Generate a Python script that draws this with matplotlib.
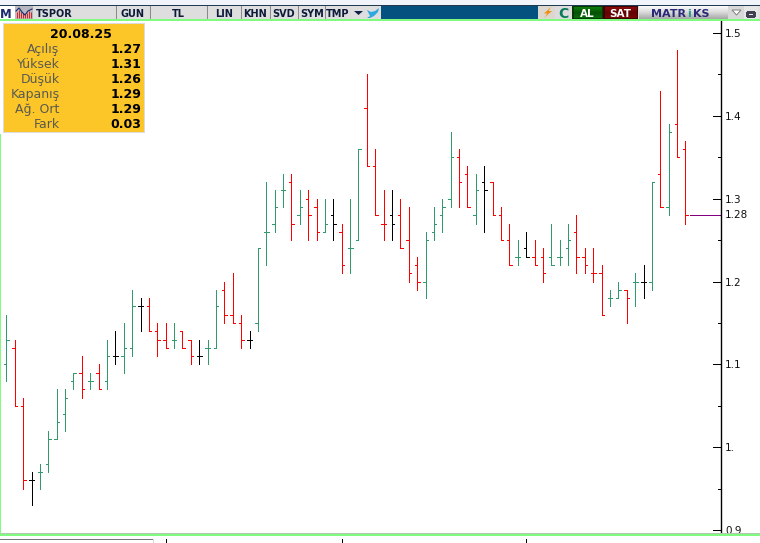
import numpy as np
import matplotlib
matplotlib.use("Agg")
import matplotlib.pyplot as plt
from matplotlib.patches import Rectangle, Polygon

# ---- data -------------------------------------------------------------
opens = [1.10,1.12,1.05,0.96,0.97,0.98,1.01,1.04,1.08,1.09,1.08,1.09,1.08,1.11,1.11,1.12,1.17,1.17,1.14,1.13,
         1.13,1.14,1.13,1.11,1.12,1.12,1.19,1.16,1.15,1.13,1.15,1.26,1.27,1.31,1.32,1.28,1.30,1.29,1.26,1.28,
         1.26,1.24,1.25,1.41,1.34,1.27,1.28,1.28,1.25,1.22,1.20,1.26,1.28,1.30,1.35,1.33,1.28,1.32,1.32,1.28,
         1.25,1.23,1.24,1.23,1.23,1.23,1.23,1.24,1.26,1.23,1.21,1.21,1.18,1.18,1.19,1.20,1.20,1.20,1.33,1.29,
         1.39,1.36]
highs = [1.16,1.13,1.06,0.97,0.98,1.02,1.07,1.07,1.09,1.11,1.09,1.10,1.13,1.14,1.15,1.19,1.18,1.18,1.15,1.15,
         1.15,1.14,1.13,1.13,1.13,1.19,1.20,1.21,1.16,1.14,1.24,1.32,1.31,1.33,1.33,1.31,1.31,1.30,1.30,1.30,
         1.27,1.30,1.36,1.45,1.36,1.31,1.31,1.30,1.29,1.23,1.26,1.29,1.30,1.38,1.36,1.34,1.33,1.34,1.32,1.29,
         1.27,1.25,1.26,1.25,1.24,1.27,1.25,1.27,1.28,1.24,1.24,1.22,1.19,1.20,1.19,1.21,1.22,1.32,1.43,1.39,
         1.48,1.37]
lows  = [1.08,1.05,0.95,0.93,0.95,0.97,1.01,1.02,1.07,1.06,1.07,1.07,1.07,1.10,1.09,1.11,1.14,1.14,1.11,1.12,
         1.12,1.12,1.10,1.10,1.10,1.12,1.15,1.15,1.12,1.12,1.14,1.22,1.26,1.29,1.25,1.27,1.25,1.25,1.26,1.25,
         1.21,1.21,1.25,1.34,1.28,1.25,1.25,1.24,1.20,1.19,1.18,1.25,1.26,1.29,1.29,1.29,1.27,1.26,1.28,1.25,
         1.22,1.22,1.23,1.22,1.20,1.22,1.22,1.22,1.21,1.21,1.20,1.16,1.17,1.18,1.15,1.17,1.18,1.19,1.29,1.28,
         1.35,1.27]
closes = [1.13,1.05,0.96,0.96,0.97,1.01,1.03,1.06,1.09,1.07,1.08,1.07,1.11,1.11,1.12,1.17,1.17,1.14,1.13,1.12,
          1.13,1.12,1.11,1.11,1.12,1.17,1.16,1.15,1.13,1.13,1.24,1.26,1.29,1.31,1.27,1.29,1.28,1.26,1.27,1.27,
          1.22,1.24,1.36,1.34,1.28,1.27,1.27,1.24,1.21,1.20,1.25,1.27,1.29,1.35,1.32,1.29,1.31,1.31,1.28,1.25,
          1.22,1.23,1.23,1.22,1.21,1.22,1.23,1.25,1.23,1.22,1.21,1.16,1.18,1.19,1.18,1.20,1.20,1.32,1.29,1.38,
          1.35,1.28]
last_price = 1.28
last_label = "1.28"
y_major = [0.9, 1.0, 1.1, 1.2, 1.3, 1.4, 1.5]
y_major_labels = ["0.9", "1.", "1.1", "1.2", "1.3", "1.4", "1.5"]
y_minor = [0.95, 1.05, 1.15, 1.25, 1.35, 1.45]

info_date = "20.08.25"
info_names = ["Açılış", "Yüksek", "Düşük", "Kapanış", "Ağ. Ort", "Fark"]
info_values = ["1.27", "1.31", "1.26", "1.29", "1.29", "0.03"]

toolbar_buttons = ["GUN", "TL", "LIN", "KHN", "SVD", "SYM", "TMP"]
symbol = "TSPOR"

# ---- styles / layout --------------------------------------------------
W, H = 760, 543
GREEN, RED, BLACK = "#2f9b68", "#ff0000", "#000000"
LINE_GREEN = "#80fb80"
PX = 0.72  # one pixel in points at dpi 100

fig = plt.figure(figsize=(W / 100, H / 100), dpi=100, facecolor="white")

# main price axes
ax_left, ax_right, ax_top, ax_bot = 0, 721, 20, 534
ax = fig.add_axes([ax_left / W, 1 - ax_bot / H, (ax_right - ax_left) / W, (ax_bot - ax_top) / H])
px_per_bar = 8.383
x0_px = 6.4
ax.set_xlim((ax_left - x0_px) / px_per_bar, (ax_right - x0_px) / px_per_bar)
px_per_price = 828.5
y15_px = 33
ax.set_ylim(1.5 - (ax_bot - y15_px) / px_per_price, 1.5 + (y15_px - ax_top) / px_per_price)

idx = np.arange(len(closes))
prev = np.r_[closes[0] - 0.01, closes[:-1]]
c = np.array(closes)
colors = np.where(c > prev + 1e-9, GREEN, np.where(c < prev - 1e-9, RED, BLACK))

ax.vlines(idx, lows, highs, colors=colors, linewidth=PX, antialiased=False)
tick = 2.4 / px_per_bar
ax.hlines(opens, idx - tick, idx, colors=colors, linewidth=PX, antialiased=False)
ax.hlines(closes, idx, idx + tick, colors=colors, linewidth=PX, antialiased=False)
ax.hlines(last_price, idx[-1] + 4.5 / px_per_bar, ax.get_xlim()[1] - 1 / px_per_bar,
          colors="#800080", linewidth=PX, antialiased=False)

for s in ["left", "top", "bottom"]:
    ax.spines[s].set_visible(False)
ax.spines["right"].set_linewidth(1.0)
ax.yaxis.tick_right()
ax.set_xticks([])
ax.set_yticks(y_major, y_major_labels, fontsize=7.5, family="DejaVu Sans")
ax.set_yticks(y_minor, minor=True)
ax.tick_params(axis="y", which="major", direction="out", left=True, right=False, length=0,
               labelright=True, pad=2.8, labelcolor="#101010")
ax.tick_params(axis="y", which="minor", length=0)
trans = ax.get_yaxis_transform()
ax.hlines(y_major, 1 - 8.5 / (ax_right - ax_left), 1, transform=trans, colors="black", linewidth=PX, antialiased=False)
ax.hlines(y_minor, 1 - 3.5 / (ax_right - ax_left), 1, transform=trans, colors="black", linewidth=PX, antialiased=False)
ax.annotate(last_label, xy=(1, last_price), xycoords=trans, xytext=(2.8, 0), textcoords="offset points",
            va="center", ha="left", fontsize=7.5, color="#101010", annotation_clip=False)

# ---- window chrome overlay in pixel coordinates ------------------------
ov = fig.add_axes([0, 0, 1, 1], zorder=10)
ov.set_xlim(0, W)
ov.set_ylim(H, 0)
ov.axis("off")
ov.patch.set_alpha(0)


def rect(x0, y0, x1, y1, fc, ec="none", lw=0, z=2):
    ov.add_patch(Rectangle((x0, y0), x1 - x0, y1 - y0, fc=fc, ec=ec, lw=lw, zorder=z, antialiased=False))


def gradient(x0, y0, x1, y1, c_top, c_mid, c_bot, z=2):
    cols = np.array([matplotlib.colors.to_rgb(k) for k in (c_top, c_mid, c_bot)])
    t = np.linspace(0, 2, 16)
    g = np.stack([np.interp(t, [0, 1, 2], cols[:, i]) for i in range(3)], axis=1)[:, None, :]
    ov.imshow(g, extent=(x0, x1, y1, y0), aspect="auto", zorder=z, interpolation="bilinear")


def label(x, y, s, size=7, color="#14213d", weight="bold", ha="center", z=5):
    ov.text(x, y, s, fontsize=size, color=color, fontweight=weight, ha=ha, va="center_baseline", zorder=z)


# bottom strip
rect(0, 534, W, H, "white", z=1)
rect(0, 533.6, W, 535.6, LINE_GREEN)
rect(0, 533, W, 533.8, "#b0c8b0")
rect(0, 539, 153, 540.4, "#777777")
rect(153, 539, 154, H, "#d8d8d8")
for xt in (166, 342, 526):
    ov.vlines(xt, 539, H, colors="black", linewidth=PX, antialiased=False, zorder=3)

# top strip
rect(0, 0, W, 5, "#f1f4fa")
rect(0, 5, W, 6, "#223a50")
rect(0, 6, W, 19, "#dcdcdc")
rect(0, 19, W, 21, LINE_GREEN)
rect(0, 134, 1.2, 534, LINE_GREEN)

# M logo and chart-type icon
rect(0, 6, 15, 19, "white")
label(6, 13.2, "M", size=8.5, color="#1a2a6c")
rect(15, 6, 33, 19, "#b8b8c0")
ov.vlines(np.arange(17, 33, 2), [12, 10, 12, 13, 14, 13, 11, 12], 18, colors="#e02020", linewidth=PX, zorder=3)
ov.plot([16, 19, 22, 25, 28, 32], [11, 8, 12, 15, 11, 9], color="#1a2a6c", lw=0.8, zorder=4)

# toolbar buttons
rect(34, 6, 115, 19, "#dedede")
label(35.5, 13, symbol, size=7, color="#0d1b3a", ha="left")
spans = [(117, 148), (151, 206), (208, 240), (242, 269), (271, 297), (299, 325), (326, 350)]
for name, (a, b) in zip(toolbar_buttons, spans):
    rect(a - 1, 6, a, 19, "#8a8a8a")
    rect(a, 6, b, 19, "#dedede")
    label((a + b) / 2, 13, name, size=7, color="#0d1b3a")
rect(351, 6, 366, 19, "#dedede")
ov.add_patch(Polygon([[354, 11], [363, 11], [358.5, 15]], fc="#10204a", zorder=4))
rect(366, 6, 381, 19, "#dedede")
ov.add_patch(Polygon([[367, 10], [371, 12], [375, 11], [379, 8], [378, 12], [374, 16], [370, 18],
                      [367, 18], [370, 16], [369, 14]], fc="#2fa8e0", zorder=4))

# blue band and right-hand controls
rect(381, 6, 538, 19, "#04507f")
rect(538, 6, 555, 19, "#dcd8d0")
ov.add_patch(Polygon([[551, 7], [544, 13.5], [547.5, 13.5], [544, 18], [552, 11], [548.5, 11]],
                     fc="#f09010", zorder=4))
rect(555, 6, 572, 19, "#dcdcdc")
label(563.5, 12.8, "C", size=10, color="#0a7a5a")
rect(572, 6, 603, 19, "#043804")
gradient(574, 7, 602, 18, "#0c7a0c", "#065206", "#0a660a")
label(587, 12.8, "AL", size=7.5, color="white")
rect(603, 6, 638, 19, "#3a0404")
gradient(605, 7, 637, 18, "#8a0808", "#600404", "#780606")
label(620, 12.8, "SAT", size=7.5, color="white")
gradient(639, 6, 728, 19, "#fafafa", "#d8d8d8", "#a8a8a8")
label(686.5, 13, "MATR", size=8, color="#2a2a78", ha="right")
label(689.5, 13, "i", size=8, color="#2a9a90", ha="center")
label(692.5, 13, "KS", size=8, color="#2a2a78", ha="left")
rect(728, 6, 744, 19, "#d8d8d8")
ov.add_patch(Polygon([[732, 10], [741, 10], [736.5, 15]], fc="white", ec="#808080", lw=0.7, zorder=4))
rect(744, 6, 758, 19, "#e6e6e6")
rect(747, 12, 754, 15.5, "none", ec="#404050", lw=0.8, z=4)
rect(758, 6, W, 19, "#e0e0e0")

# info panel
rect(2.5, 22.5, 144.5, 133, "#dcdcdc")
rect(3.5, 23.5, 143.5, 132, "#fcc629", z=3)
ov.text(81, 34.2, info_date, fontsize=9, fontweight="bold", color="black", ha="center", va="center", zorder=5)
row_y = [49.2, 64.1, 79.1, 94.1, 109.1, 124.1]
for yy, name, val in zip(row_y, info_names, info_values):
    ov.text(59.5, yy, name, fontsize=9, color="#5a5a50", ha="right", va="center", zorder=5)
    ov.text(141.5, yy, val, fontsize=9, fontweight="bold", color="black", ha="right", va="center", zorder=5)

ov.set_xlim(0, W)
ov.set_ylim(H, 0)
fig.savefig("out.png", dpi=100, facecolor="white")
